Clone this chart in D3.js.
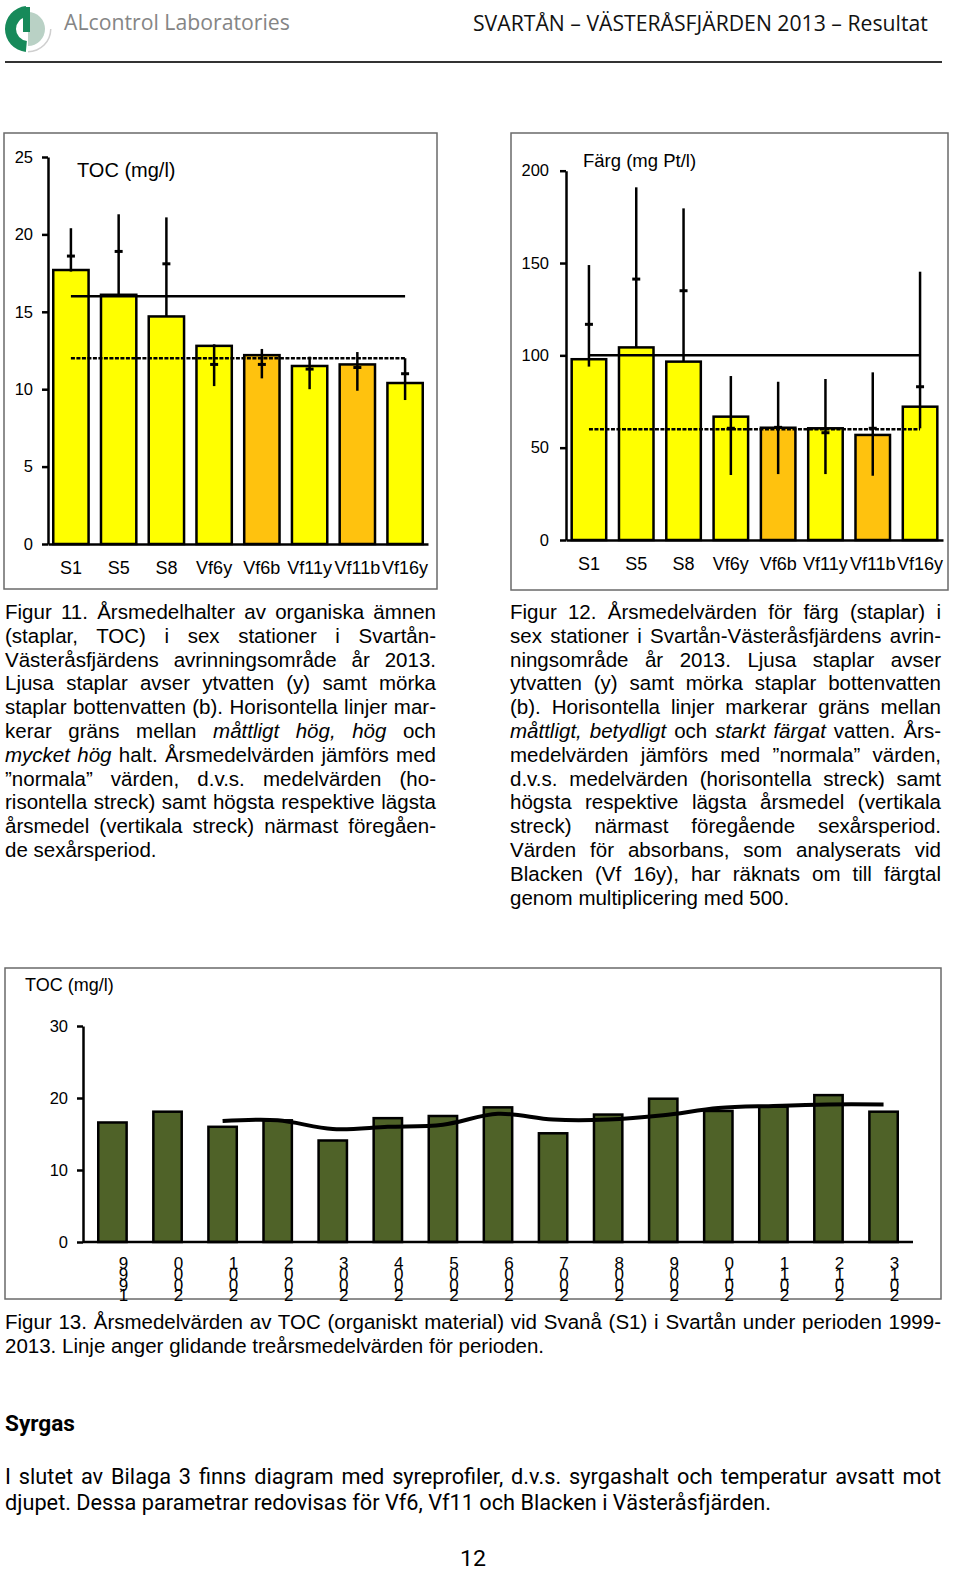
<!DOCTYPE html>
<html>
<head>
<meta charset="utf-8">
<script src="https://cdn.jsdelivr.net/npm/d3@7"></script>
<style>
  body { margin: 0; background: #fff; }
  svg { display: block; }
</style>
</head>
<body>
<svg id="page" width="960" height="1580"></svg>
<script>
// Stations in fig 11 and 12 (y = ytvatten, b = bottenvatten)
const stations = ["S1", "S5", "S8", "Vf6y", "Vf6b", "Vf11y", "Vf11b", "Vf16y"];
const stationType = ["y", "y", "y", "y", "b", "y", "b", "y"];

// Fig 11, TOC (mg/l) 2013 and previous six-year period
const tocValues = [17.7, 16.1, 14.7, 12.8, 12.2, 11.5, 11.6, 10.4];
const tocMax = [20.4, 21.3, 21.1, 12.9, 12.6, 12.1, 12.4, 12.0];
const tocMean = [18.6, 18.9, 18.1, 11.6, 11.6, 11.3, 11.4, 11.0];
const tocMin = [17.6, 16.1, 14.7, 10.2, 10.7, 10.0, 9.9, 9.3];
const tocLimits = [16, 12];
const tocTicks = [0, 5, 10, 15, 20, 25];

// Fig 12, färg (mg Pt/l)
const colorValues = [97.9, 104.3, 96.6, 66.8, 60.8, 60.5, 56.9, 72.2];
const colorMax = [148.9, 191.0, 179.6, 88.8, 85.7, 87.2, 90.8, 145.3];
const colorMean = [116.8, 141.3, 135.0, 60.5, 61.0, 58.1, 60.5, 83.0];
const colorMin = [93.9, 104.0, 96.6, 35.2, 35.7, 35.7, 34.8, 60.5];
const colorLimits = [100, 60];
const colorTicks = [0, 50, 100, 150, 200];

// Fig 13, TOC at Svanå (S1) 1999-2013 and three-year running mean
const years = ["1999", "2000", "2001", "2002", "2003", "2004", "2005", "2006",
  "2007", "2008", "2009", "2010", "2011", "2012", "2013"];
const svanaToc = [16.6, 18.1, 16.0, 16.9, 14.1, 17.2, 17.5, 18.7, 15.1, 17.7, 19.9, 18.2, 18.8, 20.4, 18.1];
const runningMean = [null, null, 16.8, 16.9, 15.7, 16.0, 16.3, 17.8, 17.0, 17.0, 17.6, 18.6, 18.9, 19.1, 19.1];
const svanaTicks = [0, 10, 20, 30];

// caption texts, _ marks italic
const fig11Lines = [
  "Figur 11. Årsmedelhalter av organiska ämnen",
  "(staplar, TOC) i sex stationer i Svartån-",
  "Västeråsfjärdens avrinningsområde år 2013.",
  "Ljusa staplar avser ytvatten (y) samt mörka",
  "staplar bottenvatten (b). Horisontella linjer mar-",
  "kerar gräns mellan _måttligt hög, hög_ och",
  "_mycket hög_ halt. Årsmedelvärden jämförs med",
  "”normala” värden, d.v.s. medelvärden (ho-",
  "risontella streck) samt högsta respektive lägsta",
  "årsmedel (vertikala streck) närmast föregåen-",
  "de sexårsperiod."
];
const fig12Lines = [
  "Figur 12. Årsmedelvärden för färg (staplar) i",
  "sex stationer i Svartån-Västeråsfjärdens avrin-",
  "ningsområde år 2013. Ljusa staplar avser",
  "ytvatten (y) samt mörka staplar bottenvatten",
  "(b). Horisontella linjer markerar gräns mellan",
  "_måttligt, betydligt_ och _starkt färgat_ vatten. Års-",
  "medelvärden jämförs med ”normala” värden,",
  "d.v.s. medelvärden (horisontella streck) samt",
  "högsta respektive lägsta årsmedel (vertikala",
  "streck) närmast föregående sexårsperiod.",
  "Värden för absorbans, som analyserats vid",
  "Blacken (Vf 16y), har räknats om till färgtal",
  "genom multiplicering med 500."
];
const fig13Lines = [
  "Figur 13. Årsmedelvärden av TOC (organiskt material) vid Svanå (S1) i Svartån under perioden 1999-",
  "2013. Linje anger glidande treårsmedelvärden för perioden."
];
const bodyLines = [
  "I slutet av Bilaga 3 finns diagram med syreprofiler, d.v.s. syrgashalt och temperatur avsatt mot",
  "djupet. Dessa parametrar redovisas för Vf6, Vf11 och Blacken i Västeråsfjärden."
];

const ARIAL = "'Liberation Sans', Arial, sans-serif";
const FRUT = "'Open Sans', 'Noto Sans', sans-serif";
const BODY = "Roboto, 'Open Sans', sans-serif";
const svg = d3.select("#page");

// text squeezed horizontally to a given width (condensed look)
function squeezed(x, y, str, size, width, attrs, font) {
  const g = svg.append("g");
  const t = g.append("text").attr("x", 0).attr("y", 0)
    .attr("font-family", font || FRUT).attr("font-size", size).text(str);
  Object.keys(attrs || {}).forEach(k => t.attr(k, attrs[k]));
  const nat = t.node().getComputedTextLength();
  const sx = width / nat;
  g.attr("transform", `translate(${x},${y}) scale(${sx},1)`);
  return {g: g, t: t, sx: sx};
}

// ---- header ----
const logo = svg.append("g").attr("transform", "translate(28,29)");
logo.append("path")
  .attr("d", d3.arc()({innerRadius: 0, outerRadius: 17, startAngle: 0, endAngle: Math.PI}))
  .attr("fill", "#b9d1c5");
logo.append("path")
  .attr("d", d3.arc()({innerRadius: 22, outerRadius: 23.5, startAngle: Math.PI * 0.5, endAngle: Math.PI}))
  .attr("fill", "#cfcfcf");
logo.append("path")
  .attr("d", d3.arc()({innerRadius: 12, outerRadius: 23, startAngle: Math.PI * 1.03, endAngle: Math.PI * 1.97}))
  .attr("fill", "#178a5a");
logo.append("rect").attr("x", -5).attr("y", -22).attr("width", 7).attr("height", 25).attr("fill", "#178a5a");

squeezed(64, 30, "ALcontrol Laboratories", 21, 226, {fill: "#858585"});
squeezed(473, 31, "SVARTÅN – VÄSTERÅSFJÄRDEN 2013 – Resultat", 21, 455, {fill: "#111"});
svg.append("line").attr("x1", 5).attr("x2", 942).attr("y1", 62).attr("y2", 62)
  .attr("stroke", "#333").attr("stroke-width", 2);

// ---- panels ----
function panel(x, y, w, h) {
  svg.append("rect").attr("x", x).attr("y", y).attr("width", w).attr("height", h)
    .attr("fill", "none").attr("stroke", "#6a6a6a").attr("stroke-width", 1.5);
}
panel(4, 133, 433, 456);
panel(511, 133, 437, 457);
panel(5, 968, 936, 331);

// bar chart with limit lines and min/mean/max of previous period
function stationChart(cfg) {
  const g = svg.append("g");
  const x = d3.scaleBand().domain(stations).range(cfg.xRange)
    .paddingInner(cfg.padIn).paddingOuter(cfg.padOut);
  const y = d3.scaleLinear().domain(cfg.yDomain).range(cfg.yRange);
  const cx = d => x(d) + x.bandwidth() / 2;

  g.selectAll("rect.bar").data(stations).join("rect")
    .attr("class", "bar")
    .attr("x", d => x(d)).attr("width", x.bandwidth())
    .attr("y", (d, i) => y(cfg.values[i]))
    .attr("height", (d, i) => y(0) - y(cfg.values[i]))
    .attr("fill", (d, i) => stationType[i] === "b" ? "#ffc20e" : "#ffff00")
    .attr("stroke", "#000").attr("stroke-width", 2.5);

  // limit lines: first solid, second dashed
  cfg.limits.forEach((v, i) => {
    g.append("line")
      .attr("x1", cx(stations[0])).attr("x2", cx(stations[stations.length - 1]))
      .attr("y1", y(v)).attr("y2", y(v))
      .attr("stroke", "#000").attr("stroke-width", 2.5)
      .attr("stroke-dasharray", i === 0 ? null : "4,1.5");
  });

  // vertical min-max, short mark at mean
  g.selectAll("line.range").data(stations).join("line")
    .attr("class", "range")
    .attr("x1", cx).attr("x2", cx)
    .attr("y1", (d, i) => y(cfg.max[i])).attr("y2", (d, i) => y(cfg.min[i]))
    .attr("stroke", "#000").attr("stroke-width", 2.5);
  g.selectAll("line.mean").data(stations).join("line")
    .attr("class", "mean")
    .attr("x1", d => cx(d) - 4).attr("x2", d => cx(d) + 4)
    .attr("y1", (d, i) => y(cfg.mean[i])).attr("y2", (d, i) => y(cfg.mean[i]))
    .attr("stroke", "#000").attr("stroke-width", 3);

  const ya = g.append("g").attr("transform", `translate(${cfg.xRange[0]},0)`)
    .call(d3.axisLeft(y).tickValues(cfg.ticks).tickSize(6).tickSizeOuter(0).tickPadding(cfg.tickPad));
  const xa = g.append("g").attr("transform", `translate(0,${y(0)})`)
    .call(d3.axisBottom(x).tickSize(0).tickSizeOuter(0).tickPadding(17));
  [ya, xa].forEach(a => {
    a.attr("font-family", ARIAL).attr("font-size", 16.5);
    a.selectAll("path, line").attr("stroke", "#000").attr("stroke-width", 2.5);
    a.selectAll("text").attr("fill", "#000");
  });
  xa.selectAll("text").attr("font-size", 18);

  g.append("text").attr("x", cfg.titleX).attr("y", cfg.titleY)
    .attr("font-family", ARIAL).attr("font-size", cfg.titleSize).text(cfg.title);
}

stationChart({
  xRange: [48, 428], padIn: 0.26, padOut: 0.11,
  yDomain: [0, 25], yRange: [544, 157],
  values: tocValues, max: tocMax, mean: tocMean, min: tocMin,
  limits: tocLimits, ticks: tocTicks, tickPad: 9,
  title: "TOC (mg/l)", titleX: 77, titleY: 177, titleSize: 20
});
stationChart({
  xRange: [566, 943], padIn: 0.27, padOut: 0.12,
  yDomain: [0, 200], yRange: [540, 170.7],
  values: colorValues, max: colorMax, mean: colorMean, min: colorMin,
  limits: colorLimits, ticks: colorTicks, tickPad: 11,
  title: "Färg (mg Pt/l)", titleX: 583, titleY: 167, titleSize: 18.5
});

// ---- fig 13 ----
(function() {
  const g = svg.append("g");
  const x = d3.scaleBand().domain(years).range([83, 913]).paddingInner(0.485).paddingOuter(0.277);
  const y = d3.scaleLinear().domain([0, 30]).range([1242, 1026]);

  g.selectAll("rect").data(years).join("rect")
    .attr("x", d => x(d)).attr("width", x.bandwidth())
    .attr("y", (d, i) => y(svanaToc[i])).attr("height", (d, i) => y(0) - y(svanaToc[i]))
    .attr("fill", "#4f6228").attr("stroke", "#000").attr("stroke-width", 2.5);

  const pts = years.map((d, i) => [x(d) + x.bandwidth() / 2, runningMean[i]]).filter(p => p[1] !== null);
  g.append("path")
    .attr("d", d3.line().x(p => p[0]).y(p => y(p[1])).curve(d3.curveCatmullRom)(pts))
    .attr("fill", "none").attr("stroke", "#000").attr("stroke-width", 4);

  const ya = g.append("g").attr("transform", "translate(83,0)")
    .call(d3.axisLeft(y).tickValues(svanaTicks).tickSize(6).tickSizeOuter(0).tickPadding(9));
  ya.attr("font-family", ARIAL).attr("font-size", 16.5);
  ya.selectAll("path, line").attr("stroke", "#000").attr("stroke-width", 2.5);
  ya.selectAll("text").attr("fill", "#000");
  g.append("line").attr("x1", 83).attr("x2", 913).attr("y1", y(0)).attr("y2", y(0))
    .attr("stroke", "#000").attr("stroke-width", 2.5);

  // stacked year labels, last digit on top, set as one vertical run
  g.selectAll("text.year").data(years).join("text")
    .attr("class", "year")
    .attr("x", d => x(d) + x.bandwidth() / 2 + 11)
    .attr("y", 1254)
    .attr("font-family", ARIAL).attr("font-size", 17)
    .style("writing-mode", "vertical-rl").style("text-orientation", "upright")
    .text(d => d.split("").reverse().join(""))
    .each(function() {
      const nat = this.getComputedTextLength();
      d3.select(this).attr("letter-spacing", (43 - nat) / 4);
    });

  g.append("text").attr("x", 25).attr("y", 991)
    .attr("font-family", ARIAL).attr("font-size", 18).text("TOC (mg/l)");
})();

// ---- captions ----
function addLine(x, y, line, size, width, justify) {
  const t = svg.append("text").attr("x", x).attr("y", y)
    .attr("font-family", ARIAL).attr("font-size", size).attr("fill", "#000")
    .attr("xml:space", "preserve");
  line.split("_").forEach((s, k) => {
    if (s.length) t.append("tspan").attr("font-style", k % 2 ? "italic" : "normal").text(s);
  });
  if (justify) {
    const nat = t.node().getComputedTextLength();
    const spaces = (line.match(/ /g) || []).length;
    if (spaces) {
      t.attr("word-spacing", (width - nat) / spaces);
      const after = t.node().getComputedTextLength();
      if (Math.abs(after - width) > 3) {
        t.attr("word-spacing", null).attr("textLength", width).attr("lengthAdjust", "spacing");
      }
    }
  }
  return t;
}
function paragraph(lines, x, y0, lh, width, size) {
  lines.forEach((l, i) => addLine(x, y0 + i * lh, l, size, width, i < lines.length - 1));
}
paragraph(fig11Lines, 5, 619, 23.8, 431, 20.5);
paragraph(fig12Lines, 510, 619, 23.8, 431, 20.5);
paragraph(fig13Lines, 5, 1329, 24, 936, 20.5);

// ---- body text ----
squeezed(5, 1431, "Syrgas", 22, 70, {"font-weight": "bold"}, BODY);
const line2 = squeezed(5, 1510, bodyLines[1], 21.5, 766, {}, BODY);
// first line: same squeeze, justified with word spacing
(function() {
  const g = svg.append("g").attr("transform", `translate(5,1484) scale(${line2.sx},1)`);
  const t = g.append("text").attr("font-family", BODY).attr("font-size", 21.5).text(bodyLines[0]);
  const nat = t.node().getComputedTextLength();
  const spaces = (bodyLines[0].match(/ /g) || []).length;
  t.attr("word-spacing", (936 / line2.sx - nat) / spaces);
})();
squeezed(460, 1566, "12", 22, 26, {}, BODY);
</script>
</body>
</html>
